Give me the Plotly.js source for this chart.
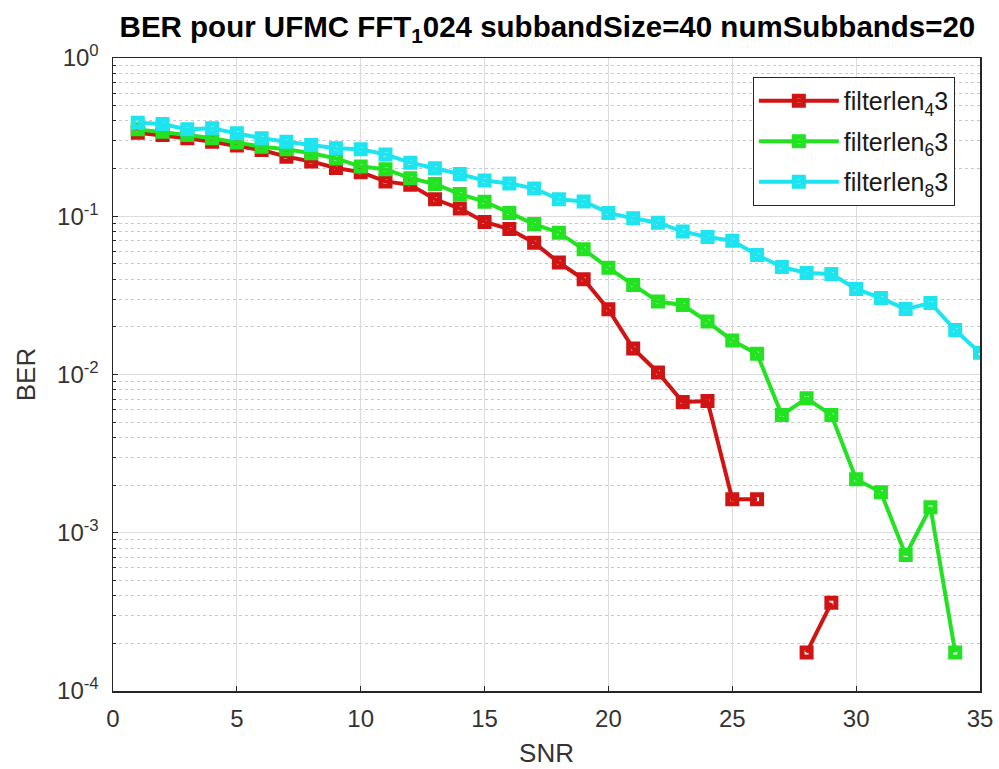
<!DOCTYPE html>
<html>
<head>
<meta charset="utf-8">
<script src="https://cdn.plot.ly/plotly-3.0.1.min.js"></script>
<style>html,body{margin:0;padding:0;background:#fff;}#chart{width:999px;height:769px;}</style>
</head>
<body>
<div id="chart"></div>
<script>
// SNR values
const snrRed   = [1,2,3,4,5,6,7,8,9,10,11,12,13,14,15,16,17,18,19,20,21,22,23,24,25,26,27,28,29];
const snrGreen = [1,2,3,4,5,6,7,8,9,10,11,12,13,14,15,16,17,18,19,20,21,22,23,24,25,26,27,28,29,30,31,32,33,34];
const snrCyan  = [1,2,3,4,5,6,7,8,9,10,11,12,13,14,15,16,17,18,19,20,21,22,23,24,25,26,27,28,29,30,31,32,33,34,35];

// BER values
const berFilter4 = [0.337,0.326,0.311,0.296,0.28,0.262,0.238,0.222,0.202,0.19,0.166,0.158,0.128,0.112,0.092,0.083,0.068,0.051,0.040,0.0258,0.0146,0.0103,0.0067,0.0068,0.00163,0.00163,null,0.000175,0.000361];
const berFilter6 = [0.354,0.342,0.326,0.311,0.292,0.275,0.265,0.25,0.232,0.206,0.198,0.174,0.160,0.138,0.1236,0.105,0.0893,0.0787,0.0618,0.0472,0.0368,0.0289,0.0275,0.0216,0.0164,0.0135,0.00555,0.00707,0.00555,0.00218,0.0018,0.000723,0.00145,0.000175];
const berFilter8 = [0.39,0.383,0.354,0.36,0.334,0.311,0.296,0.282,0.269,0.265,0.246,0.218,0.201,0.185,0.168,0.161,0.150,0.128,0.124,0.105,0.097,0.091,0.080,0.074,0.070,0.0569,0.0478,0.0438,0.0432,0.0347,0.0304,0.0259,0.0283,0.0191,0.0137];

const seriesNames = ['filterlen<sub>4</sub>3','filterlen<sub>6</sub>3','filterlen<sub>8</sub>3'];
const yTickVals = [1,0.1,0.01,0.001,0.0001];
const yTickText = ['10<sup>0</sup>','10<sup>-1</sup>','10<sup>-2</sup>','10<sup>-3</sup>','10<sup>-4</sup>'];
const xTickVals = [0,5,10,15,20,25,30,35];

const colors = ['rgb(208,20,20)','rgb(34,226,34)','rgb(30,228,240)'];

function mk(x, y, name, color, grp) {
  return {
    x: x, y: y, name: name, type: 'scatter', mode: 'lines+markers',
    connectgaps: false, legendgroup: grp,
    line: {color: color, width: 4},
    marker: {symbol: 'square-open', size: 9, color: color, line: {color: color, width: 5}}
  };
}

const data = [
  mk(snrRed, berFilter4, seriesNames[0], colors[0], 'g1'),
  mk(snrGreen, berFilter6, seriesNames[1], colors[1], 'g2'),
  mk(snrCyan, berFilter8, seriesNames[2], colors[2], 'g3')
];

const fontFam = '"Liberation Sans", Arial, Helvetica, sans-serif';

const layout = {
  width: 999, height: 769,
  margin: {l: 113, r: 19, t: 58, b: 78},
  paper_bgcolor: '#ffffff', plot_bgcolor: '#ffffff',
  font: {family: fontFam, color: '#333333', size: 22},
  title: {
    text: 'BER pour UFMC FFT<sub>1</sub>024 subbandSize=40 numSubbands=20',
    font: {family: fontFam, size: 29.5, color: '#000000', weight: 'bold'},
    x: 0.548, xanchor: 'center', xref: 'container',
    y: 0.965, yanchor: 'middle', yref: 'container'
  },
  xaxis: {
    range: [0, 35], tickvals: xTickVals, ticks: 'inside', ticklen: 5, tickwidth: 1, tickcolor: '#262626',
    showline: true, linecolor: '#262626', linewidth: 1.5, mirror: true,
    showgrid: true, gridcolor: '#dcdcdc', gridwidth: 1, zeroline: false,
    tickfont: {size: 24, color: '#333333'},
    ticklabelstandoff: 6,
    title: {text: 'SNR', font: {size: 26, color: '#333333'}, standoff: 12}
  },
  yaxis: {
    type: 'log', range: [-4, 0], tickvals: yTickVals, ticktext: yTickText,
    ticks: 'inside', ticklen: 5, tickwidth: 1, tickcolor: '#262626',
    showline: true, linecolor: '#262626', linewidth: 1.5, mirror: true,
    showgrid: true, gridcolor: '#dcdcdc', gridwidth: 1, zeroline: false,
    tickfont: {size: 24, color: '#333333'},
    ticklabelstandoff: 8,
    minor: {ticks: 'inside', ticklen: 3, tickcolor: '#262626', showgrid: true, gridcolor: '#c8c8c8', griddash: 'dot', gridwidth: 1, dtick: 'D1'},
    title: {text: 'BER', font: {size: 26, color: '#333333'}, standoff: 14}
  },
  legend: {
    x: 0.971, xanchor: 'right', y: 0.970, yanchor: 'top',
    bgcolor: '#ffffff', bordercolor: '#262626', borderwidth: 1,
    font: {size: 25, color: '#1a1a1a'},
    traceorder: 'grouped', tracegroupgap: 5,
    itemwidth: 80
  },
  showlegend: true
};

Plotly.newPlot('chart', data, layout, {displayModeBar: false, staticPlot: true});
</script>
</body>
</html>
